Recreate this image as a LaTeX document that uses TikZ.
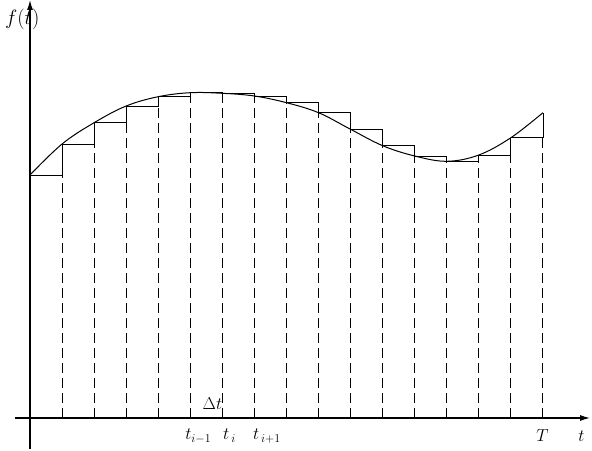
\documentclass[tikz,border=0pt]{standalone}
\usepackage{amsmath,amssymb}
\usepackage{xcolor}
\usetikzlibrary{arrows.meta}

\begin{document}
\begin{tikzpicture}[x=32.06pt,y=1pt,lbl/.style={inner sep=0pt,font=\fontsize{18}{21}\selectfont},
  stepline/.style={line width=0.8pt},cutline/.style={line width=1pt,dash pattern=on 10pt off 5pt}]
\useasboundingbox (-0.9357,-33) rectangle (17.53,418);
\draw[line width=1.2pt,-{Latex[length=10pt,width=6pt]}] (-0.47,0)--(17.47,0) coordinate (tend);
\draw[line width=1.2pt,-{Latex[length=10pt,width=6pt]}] (0,-31)--(0,418) coordinate (fend);
\foreach \k/\a/\b in {1/243/274,2/274/295.3,3/295.3/312,4/312/321.3,5/321.3/325.3,6/325.3/324.7,7/324.7/322,8/322/315.3,
  9/315.3/305.3,10/305.3/288.7,11/288.7/272.3,12/272.3/262,13/262/256.7,14/256.7/263,15/263/280.3,16/280.3/305.3}{
  \draw[stepline] (\k-1,\a)--(\k,\a)--(\k,\b);
  \draw[cutline] (\k,0)--(\k,{min(\a,\b)});
}
\draw[line width=1pt] plot[smooth,tension=0.6] coordinates {(0,243) (1,274) (2,295.3) (3,312) (4,321.3) (5,325.3) (6,324.7)
  (7,322) (8,315.3) (9,305.3) (10,288.7) (11,272.3) (12,262) (13,256.7) (14,263) (15,280.3) (16,305.3)};
\node[lbl,font=\fontsize{20}{23}\selectfont,anchor=east] (fl) at (0.3,399) {$f(t)$};
\node[lbl,anchor=base west] (dt) at (5.38,8) {$\Delta t$};
\node[lbl,anchor=base west] (tprev) at (4.84,-22) {$t_{i-1}$};
\node[lbl,anchor=base west] (tcur) at (6.02,-22) {$t_{\,i}$};
\node[lbl,anchor=base west] (tnext) at (6.95,-22) {$t_{\,i+1}$};
\node[lbl,anchor=base west] (tT) at (15.79,-24) {$T$};
\node[lbl,anchor=base west] (tt) at (17.1,-24) {$t$};
\end{tikzpicture}
\end{document}
